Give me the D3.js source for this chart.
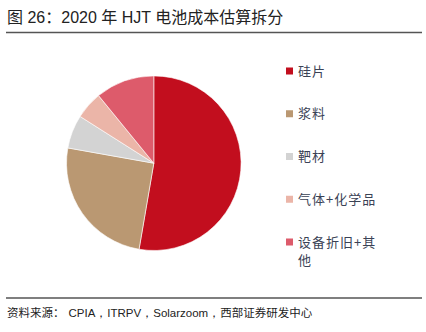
<!DOCTYPE html>
<html><head><meta charset="utf-8">
<script src="https://cdn.jsdelivr.net/npm/d3@7"></script>
<style>
html,body{margin:0;padding:0;background:#fff;}
svg{display:block;}
</style></head>
<body>
<svg id="c" width="426" height="332"></svg>
<script>
const categories = ["硅片", "浆料", "靶材", "气体+化学品", "设备折旧+其他"];
const values = [52.7, 25.1, 6.2, 5.1, 10.9];
const colors = ["#C20E1E", "#BA9872", "#D3D3D3", "#EBB5A8", "#DD5B6B"];
const legendLines = [["硅片"], ["浆料"], ["靶材"], ["气体+化学品"], ["设备折旧+其", "他"]];

const svg = d3.select("#c");
const cjk = "'Noto Sans CJK SC', 'Noto Sans', sans-serif";

svg.append("text").attr("x", 7).attr("y", 23)
  .attr("font-family", "'Liberation Sans', Arial, 'Noto Sans CJK SC', sans-serif")
  .attr("font-size", 16).attr("fill", "#222")
  .text("图 26：2020 年 HJT 电池成本估算拆分");

svg.append("line").attr("x1", 6).attr("x2", 422).attr("y1", 32.5).attr("y2", 32.5)
  .attr("stroke", "#555").attr("stroke-width", 1.5);

const cx = 153.8, cy = 163.2, r = 87.3;
const pie = d3.pie().sort(null).value(d => d);
const arc = d3.arc().innerRadius(0).outerRadius(r);
const g = svg.append("g").attr("transform", `translate(${cx},${cy})`);
g.selectAll("path").data(pie(values)).join("path")
  .attr("d", arc).attr("fill", (d, i) => colors[i])
  .attr("stroke", "#fff").attr("stroke-width", 0.6);

const ly = d3.scalePoint().domain(categories).range([71, 242]);
const lg = svg.append("g");
categories.forEach((c, i) => {
  const y = ly(c);
  lg.append("rect").attr("x", 286).attr("y", y - 3.5).attr("width", 7).attr("height", 7)
    .attr("fill", colors[i]);
  legendLines[i].forEach((t, j) => {
    lg.append("text").attr("x", 298).attr("y", y + 4.5 + j * 18)
      .attr("font-family", cjk).attr("font-size", 13).attr("fill", "#3a4255")
      .attr("letter-spacing", 1).text(t);
  });
});

svg.append("line").attr("x1", 6).attr("x2", 422).attr("y1", 298).attr("y2", 298)
  .attr("stroke", "#555").attr("stroke-width", 1.3);
const src = svg.append("text").attr("x", 7).attr("y", 317).attr("font-size", 11.5).attr("fill", "#222");
src.append("tspan").attr("font-family", cjk).text("资料来源：");
src.append("tspan").attr("font-family", "'Liberation Sans', Arial, sans-serif").attr("dx", 4).text("CPIA，ITRPV，Solarzoom，");
src.append("tspan").attr("font-family", cjk).text("西部证券研发中心");
</script>
</body></html>
